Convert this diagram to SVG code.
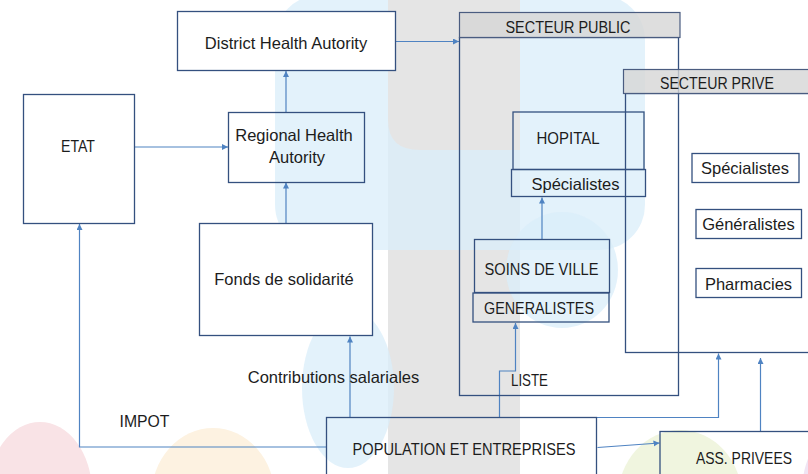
<svg xmlns="http://www.w3.org/2000/svg" width="808" height="474" viewBox="0 0 808 474">
  <style>
    .box { fill: none; stroke: #34507f; stroke-width: 1.3; }
    .solid { fill: #ffffff; stroke: #34507f; stroke-width: 1.3; }
    .head { fill: #d6d6d6; fill-opacity: 0.8; stroke: #4a5c80; stroke-width: 1.2; }
    .link { fill: none; stroke: #4f83c2; stroke-width: 1.2; }
    .m { font-family: "Liberation Sans", Arial, sans-serif; font-size: 16.5px; fill: #1c1c1c; }
    .c { font-family: "Liberation Sans", Arial, sans-serif; font-size: 17px; fill: #1c1c1c; }
    .mid { text-anchor: middle; }
  </style>
  <defs>
    <marker id="arrow" markerUnits="userSpaceOnUse" markerWidth="7" markerHeight="7" refX="6" refY="3" orient="auto">
      <path d="M0,0 L6,3 L0,6 z" fill="#4f83c2"/>
    </marker>
  </defs>

  <!-- faint backdrop artwork -->
  <g id="backdrop">
    <rect x="0" y="0" width="808" height="474" fill="#ffffff"/>
    <ellipse cx="40" cy="492" rx="52" ry="70" fill="#f9e3e6"/>
    <ellipse cx="213" cy="498" rx="62" ry="70" fill="#fdf2e1"/>
    <ellipse cx="680" cy="498" rx="62" ry="68" fill="#f0f5df"/>
    <ellipse cx="838" cy="492" rx="36" ry="60" fill="#f0e4f3"/>
    <rect x="388" y="0" width="132" height="474" fill="#e5e5e5"/>
    <g fill="#d9eef9" fill-opacity="0.75">
      <rect x="275" y="-5" width="370" height="255" rx="45"/>
      <ellipse cx="562" cy="270" rx="56" ry="58"/>
      <ellipse cx="348" cy="388" rx="46" ry="80"/>
    </g>
    <path d="M388,0 H520 V150 H420 Q388,150 388,120 Z" fill="#e5e5e5"/>
  </g>

  <!-- connectors -->
  <g id="connectors">
    <line class="link" x1="134.5" y1="147" x2="228" y2="147" marker-end="url(#arrow)"/>
    <line class="link" x1="286" y1="223.5" x2="286" y2="182.5" marker-end="url(#arrow)"/>
    <line class="link" x1="286" y1="112.5" x2="286" y2="71" marker-end="url(#arrow)"/>
    <line class="link" x1="396" y1="41.5" x2="459" y2="41.5" marker-end="url(#arrow)"/>
    <line class="link" x1="350" y1="417.5" x2="350" y2="336.5" marker-end="url(#arrow)"/>
    <polyline class="link" points="326.5,447 79.5,447 79.5,224" marker-end="url(#arrow)"/>
    <polyline class="link" points="499.5,417.5 499.5,371 515.5,371 515.5,323" marker-end="url(#arrow)"/>
    <line class="link" x1="542" y1="239.5" x2="542" y2="197.5" marker-end="url(#arrow)"/>
    <polyline class="link" points="597,417.5 718.5,417.5 718.5,353.5" marker-end="url(#arrow)"/>
    <line class="link" x1="597.5" y1="447.5" x2="659.5" y2="443" marker-end="url(#arrow)"/>
    <line class="link" x1="760.5" y1="431.5" x2="760.5" y2="358" marker-end="url(#arrow)"/>
  </g>

  <g id="district">
    <rect class="solid" x="177.5" y="11.5" width="218" height="59"/>
    <text class="m mid" x="286" y="49">District Health Autority</text>
  </g>

  <g id="etat">
    <rect class="solid" x="23.5" y="94.5" width="111" height="129"/>
    <text class="c mid" x="78" y="152" textLength="34" lengthAdjust="spacingAndGlyphs">ETAT</text>
  </g>

  <g id="regional">
    <rect class="box" x="228.5" y="112.5" width="136" height="70"/>
    <text class="m mid" x="294" y="141">Regional Health</text>
    <text class="m mid" x="297" y="163">Autority</text>
  </g>

  <g id="fonds">
    <rect class="solid" x="199.5" y="223.5" width="173" height="112"/>
    <text class="m mid" x="284" y="285">Fonds de solidarité</text>
  </g>

  <g id="contributions-label">
    <text class="m mid" x="333.5" y="383">Contributions salariales</text>
  </g>

  <g id="impot-label">
    <text class="c" x="119.5" y="427" textLength="50" lengthAdjust="spacingAndGlyphs">IMPOT</text>
  </g>

  <g id="secteur-public">
    <rect class="box" x="459.5" y="37.5" width="219" height="358"/>
    <rect class="head" x="459.5" y="12.5" width="220.5" height="25"/>
    <text class="c mid" x="568" y="33" textLength="125" lengthAdjust="spacingAndGlyphs">SECTEUR PUBLIC</text>
  </g>

  <g id="hopital">
    <rect class="box" x="513" y="112" width="131" height="57.5"/>
    <text class="c mid" x="568" y="144" textLength="63" lengthAdjust="spacingAndGlyphs">HOPITAL</text>
  </g>

  <g id="hopital-specialistes">
    <rect class="box" x="511.5" y="169.5" width="134" height="27"/>
    <text class="m mid" x="575.5" y="189.5">Spécialistes</text>
  </g>

  <g id="soins-de-ville">
    <rect class="box" x="474.5" y="239.5" width="135" height="53"/>
    <text class="c mid" x="541.5" y="275" textLength="114" lengthAdjust="spacingAndGlyphs">SOINS DE VILLE</text>
  </g>

  <g id="generalistes">
    <rect class="box" x="473" y="293" width="136" height="29"/>
    <text class="c mid" x="539" y="313.5" textLength="110" lengthAdjust="spacingAndGlyphs">GENERALISTES</text>
  </g>

  <g id="liste-label">
    <text class="c" x="511" y="386" textLength="37" lengthAdjust="spacingAndGlyphs">LISTE</text>
  </g>

  <g id="secteur-prive">
    <rect class="box" x="625.5" y="93.5" width="200" height="259"/>
    <rect class="head" x="623.5" y="69.5" width="200" height="24"/>
    <text class="c mid" x="717" y="88.5" textLength="114" lengthAdjust="spacingAndGlyphs">SECTEUR PRIVE</text>
  </g>

  <g id="prive-specialistes">
    <rect class="box" x="692" y="153.5" width="107" height="29"/>
    <text class="m mid" x="745" y="173.5">Spécialistes</text>
  </g>

  <g id="prive-generalistes">
    <rect class="box" x="696" y="209.5" width="105.5" height="29"/>
    <text class="m mid" x="748.5" y="230">Généralistes</text>
  </g>

  <g id="pharmacies">
    <rect class="box" x="696" y="268.5" width="105.5" height="29"/>
    <text class="m mid" x="748.5" y="289.5">Pharmacies</text>
  </g>

  <g id="population">
    <rect class="box" x="326.5" y="417.5" width="270" height="70"/>
    <text class="c mid" x="464" y="455" textLength="223" lengthAdjust="spacingAndGlyphs">POPULATION ET ENTREPRISES</text>
  </g>

  <g id="ass-privees">
    <rect class="box" x="660" y="431.5" width="160" height="60"/>
    <text class="c mid" x="744" y="464" textLength="96" lengthAdjust="spacingAndGlyphs">ASS. PRIVEES</text>
  </g>
</svg>
